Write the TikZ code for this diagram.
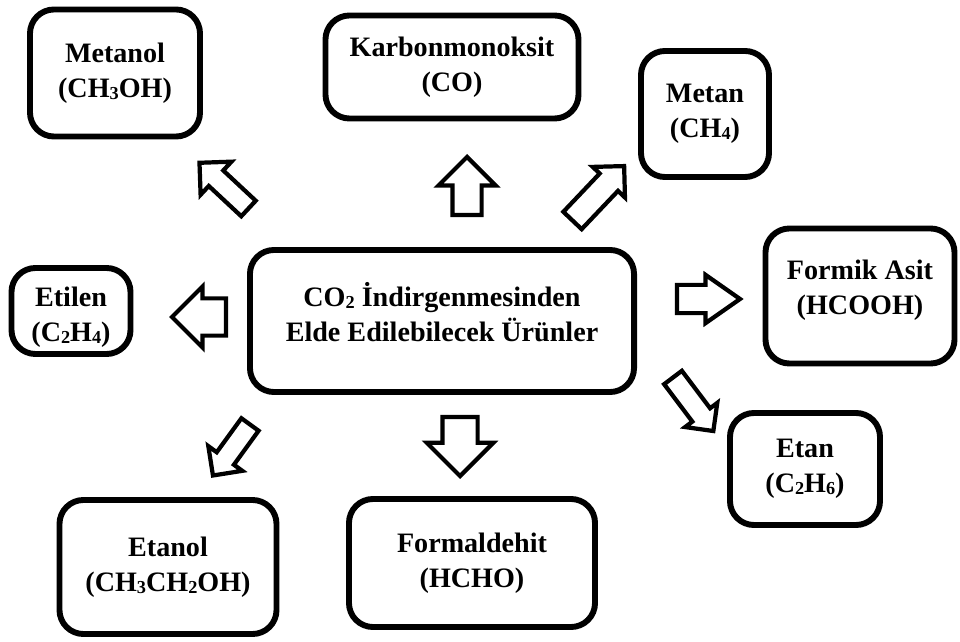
\documentclass[tikz,border=0pt]{standalone}
\usepackage{fontspec}
\setmainfont{Liberation Serif}
\usetikzlibrary{shapes.arrows}
\newcommand{\sbs}[1]{\raisebox{-0.15ex}{\fontsize{13}{13}\selectfont #1}}
\newcommand{\shifttext}[2]{\raisebox{#1}[\height][\depth]{\begin{tabular}{@{}c@{}}#2\end{tabular}}}

\begin{document}
\begin{tikzpicture}[x=0.025cm, y=-0.025cm,
        prodbox/.style={draw, line width=4.2pt, rounded corners=0.6cm, align=center, inner sep=0pt,
                        font=\bfseries\fontsize{20}{25}\selectfont},
        prodarrow/.style={single arrow, draw, fill=white, line width=3pt, inner xsep=0pt, outer sep=0pt,
                          minimum width=1pt, anchor=tail}]
        \useasboundingbox (0,0) rectangle (960,642);

        % Central box
        \node[prodbox, minimum width=9.6cm, minimum height=3.55cm] (co2) at (442,321)
            {\shifttext{0.1cm}{CO\sbs{2} İndirgenmesinden\\Elde Edilebilecek Ürünler}};

        % Products
        \node[prodbox, minimum width=4.25cm, minimum height=3.175cm] (metanol) at (115,73) {Metanol\\(CH\sbs{3}OH)};
        \node[prodbox, minimum width=6.325cm, minimum height=2.575cm] (karbon) at (452,67) {Karbonmonoksit\\(CO)};
        \node[prodbox, minimum width=3.2cm, minimum height=3.15cm] (metan) at (705,114) {Metan\\(CH\sbs{4})};
        \node[prodbox, minimum width=4.725cm, minimum height=3.375cm] (formik) at (860,296)
            {\shifttext{0.15cm}{Formik Asit\\(HCOOH)}};
        \node[prodbox, minimum width=3.75cm, minimum height=2.8cm] (etan) at (805,469) {Etan\\(C\sbs{2}H\sbs{6})};
        \node[prodbox, minimum width=6.15cm, minimum height=3.2cm] (formaldehit) at (472,563) {Formaldehit\\(HCHO)};
        \node[prodbox, minimum width=5.425cm, minimum height=3.35cm] (etanol) at (168,567) {Etanol\\(CH\sbs{3}CH\sbs{2}OH)};
        \node[prodbox, minimum width=2.975cm, minimum height=2.15cm] (etilen) at (71,311)
            {\shifttext{-0.15cm}{Etilen\\(C\sbs{2}H\sbs{4})}};

        % Block arrows (placed at their tails)
        \node[prodarrow, rotate=90, minimum height=1.45cm, inner ysep=0.3125cm, single arrow head extend=0.35cm] (tokarbon) at (467,215) {};
        \node[prodarrow, rotate=180, minimum height=1.35cm, inner ysep=0.4125cm, single arrow head extend=0.3cm] (toetilen) at (226,317) {};
        \node[prodarrow, rotate=0, minimum height=1.575cm, inner ysep=0.3cm, single arrow head extend=0.25cm, single arrow tip angle=70] (toformik) at (677,299) {};
        \node[prodarrow, rotate=-90, minimum height=1.475cm, inner ysep=0.3875cm, single arrow head extend=0.39cm] (toformaldehit) at (460,417) {};
        \node[prodarrow, rotate=137, minimum height=1.675cm, inner ysep=0.2125cm, single arrow head extend=0.3cm] (tometanol) at (248.5,208.5) {};
        \node[prodarrow, rotate=46.5, minimum height=1.875cm, inner ysep=0.2625cm, single arrow head extend=0.24cm] (tometan) at (572.5,220.5) {};
        \node[prodarrow, rotate=-53, minimum height=1.675cm, inner ysep=0.225cm, single arrow head extend=0.225cm] (toetan) at (673,377.5) {};
        \node[prodarrow, rotate=-126, minimum height=1.575cm, inner ysep=0.2125cm, single arrow head extend=0.26cm] (toetanol) at (250,424.5) {};

    \end{tikzpicture}
\end{document}
